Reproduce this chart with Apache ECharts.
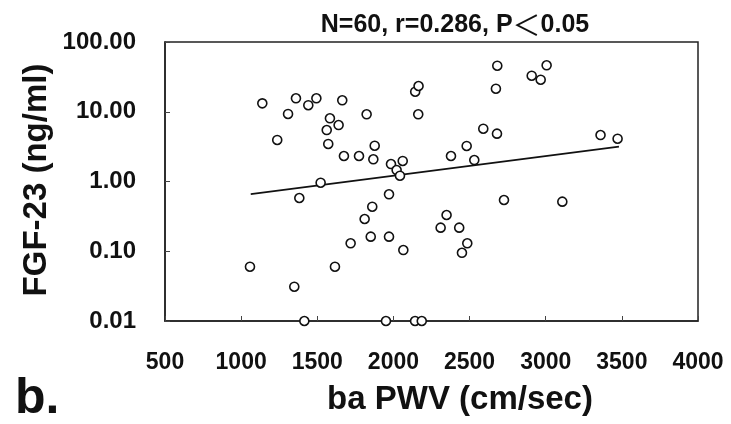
<!DOCTYPE html>
<html>
<head>
<meta charset="utf-8">
<script src="https://cdn.jsdelivr.net/npm/echarts@6/dist/echarts.min.js"></script>
<style>html,body{margin:0;padding:0;background:#fff}#c{width:731px;height:424px}</style>
</head>
<body>
<div id="c"></div>
<script>
// ba PWV (cm/sec) values
var pwv = [1139,1308,1360,1441,1494,1237,1583,1562,1640,1572,1664,1824,1877,1675,1774,1868,1984,2061,2021,2043,2143,2165,2163,1522,
           2682,2673,2908,2967,3006,2590,2680,2481,2378,2531,3360,3472,
           1382,1971,1861,1811,1851,1971,1719,2065,1058,1616,1349,1415,1951,2142,2186,
           2726,3109,2349,2310,2432,2485,2450];
// FGF-23 (ng/ml) values
var fgf = [13.2,9.3,15.6,12.4,15.6,3.94,8.05,5.47,6.45,3.45,14.6,9.2,3.26,2.32,2.32,2.08,1.78,1.97,1.46,1.21,19.4,23.4,9.2,0.96,
           45.7,21.4,32.9,28.8,46.4,5.71,4.85,3.23,2.32,2.03,4.64,4.11,
           0.58,0.655,0.435,0.29,0.162,0.162,0.13,0.104,0.060,0.060,0.031,0.01,0.01,0.01,0.01,
           0.543,0.514,0.331,0.218,0.218,0.13,0.095];
// regression line end points
var fitX = [1063, 3481];
var fitY = [0.66, 3.16];
var xTicks = [500,1000,1500,2000,2500,3000,3500,4000];
var yTicks = ['0.01','0.10','1.00','10.00','100.00'];

var chart = echarts.init(document.getElementById('c'), null, {renderer:'canvas'});
var pts = pwv.map(function(v,i){return [v, fgf[i]];});
var line = fitX.map(function(v,i){return [v, fitY[i]];});
var font = '"Liberation Sans", Arial, sans-serif';
chart.setOption({
  animation:false,
  backgroundColor:'#fff',
  title:{text:'{a|N=60, r=0.286, P}{b|＜}{a|0.05}', left:450, top:6, textAlign:'center',
    textStyle:{fontFamily:font, fontWeight:'bold', fontSize:25, color:'#111',
      rich:{a:{fontFamily:font, fontWeight:'bold', fontSize:25, color:'#111'},
            b:{fontFamily:'"Noto Sans CJK JP", sans-serif', fontWeight:'normal', fontSize:28, color:'#111'}}}},
  grid:{left:165, right:33, top:42, bottom:103, show:true, borderColor:'#222', borderWidth:1.5, backgroundColor:'transparent'},
  xAxis:{type:'value', min:500, max:4000, interval:500,
    axisLine:{lineStyle:{color:'#222', width:1.5}},
    axisTick:{inside:true, length:5, lineStyle:{color:'#444'}},
    splitLine:{show:false},
    axisLabel:{margin:30, fontFamily:font, fontWeight:'bold', fontSize:23, color:'#111',
      formatter:function(v){return xTicks.indexOf(v)>=0? String(v):'';}}
  },
  yAxis:{type:'log', logBase:10, min:0.01, max:100,
    axisLine:{lineStyle:{color:'#222', width:1.5}},
    axisTick:{inside:true, length:5, lineStyle:{color:'#444'}},
    splitLine:{show:false},
    axisLabel:{margin:29, fontFamily:font, fontWeight:'bold', fontSize:24, color:'#111',
      formatter:function(v){var i=Math.round(Math.log10(v))+2; return yTicks[i]||'';}}
  },
  graphic:[
    {type:'text', x:37, y:180, rotation:Math.PI/2, style:{text:'FGF-23 (ng/ml)', x:0, y:0, align:'center', verticalAlign:'middle',
      font:'bold 33px '+font, fill:'#111'}},
    {type:'text', x:460, y:400, style:{text:'ba PWV (cm/sec)', align:'center', verticalAlign:'middle',
      font:'bold 33px '+font, fill:'#111'}},
    {type:'text', x:15, y:399, style:{text:'b.', align:'left', verticalAlign:'middle',
      font:'bold 50px '+font, fill:'#111'}}
  ],
  series:[
    {type:'line', data:line, symbol:'none', lineStyle:{color:'#111', width:1.6}, z:2},
    {type:'scatter', data:pts, symbol:'circle', symbolSize:9,
      itemStyle:{color:'#fff', borderColor:'#111', borderWidth:1.6, opacity:1}, z:3}
  ]
});
</script>
</body>
</html>
